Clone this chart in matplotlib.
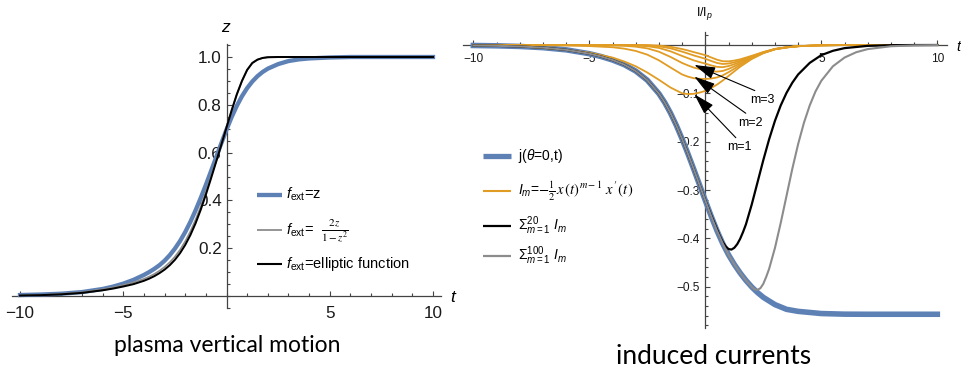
import matplotlib
matplotlib.use('Agg')
import matplotlib.pyplot as plt
from matplotlib.lines import Line2D
from matplotlib.ticker import MultipleLocator, FixedLocator

plt.rcParams['font.family'] = ['Liberation Sans', 'DejaVu Sans']
plt.rcParams['mathtext.fontset'] = 'custom'
plt.rcParams['mathtext.rm'] = 'Liberation Sans'
plt.rcParams['mathtext.it'] = 'Liberation Sans:italic'
plt.rcParams['mathtext.bf'] = 'Liberation Sans:bold'

# ---------------- data: left panel (plasma vertical motion) ----------------
t_left = [-10, -9, -8, -7, -6, -5.5, -5, -4.5, -4, -3.75, -3.5, -3.25, -3, -2.75, -2.5, -2.25, -2,
          -1.75, -1.5, -1.25, -1, -0.75, -0.5, -0.25, 0, 0.25, 0.5, 0.75, 1, 1.25, 1.5, 1.75, 2,
          2.5, 3, 3.5, 4, 5, 6, 7, 8, 9, 10]
z_fz = [0.004, 0.0062, 0.0096, 0.0164, 0.0294, 0.0392, 0.0517, 0.0677, 0.088, 0.0999, 0.1133, 0.1287,
        0.1476, 0.1707, 0.198, 0.23, 0.2673, 0.3101, 0.3579, 0.4098, 0.4649, 0.5223, 0.5808, 0.6392,
        0.696, 0.7488, 0.7957, 0.8361, 0.8699, 0.8975, 0.9198, 0.9374, 0.9512, 0.9702, 0.983, 0.99,
        0.994, 0.998, 1.0, 1.0, 1.0, 1.0, 1.0]
z_frac = [0.0025, 0.0045, 0.009, 0.0155, 0.028, 0.036, 0.0458, 0.0568, 0.0716, 0.081, 0.0919, 0.1055,
          0.1214, 0.1407, 0.1643, 0.1933, 0.2286, 0.2699, 0.3189, 0.3737, 0.4341, 0.499, 0.5661, 0.6351,
          0.705, 0.7769, 0.8438, 0.9001, 0.946, 0.975, 0.989, 0.996, 0.999, 1.0, 1.0, 1.0, 1.0, 1.0,
          1.0, 1.0, 1.0, 1.0, 1.0]
z_ellip = [0.002, 0.0035, 0.007, 0.013, 0.024, 0.031, 0.0398, 0.0498, 0.0636, 0.0725, 0.0829, 0.0955,
           0.1104, 0.1287, 0.1513, 0.1793, 0.2136, 0.2549, 0.3039, 0.3607, 0.4241, 0.492, 0.5621, 0.6331,
           0.705, 0.7769, 0.8438, 0.9001, 0.946, 0.975, 0.989, 0.996, 0.999, 1.0, 1.0, 1.0, 1.0, 1.0,
           1.0, 1.0, 1.0, 1.0, 1.0]
left_xticks = [-10, -5, 5, 10]
left_xticklabels = ['\u221210', '\u22125', '5', '10']
left_yticks = [0.2, 0.4, 0.6, 0.8, 1.0]
left_yticklabels = ['0.2', '0.4', '0.6', '0.8', '1.0']

# ---------------- data: right panel (induced currents) ----------------
t_right = [-10, -9, -8, -7, -6, -5, -4.5, -4, -3.5, -3, -2.5, -2, -1.75, -1.5, -1.25, -1, -0.75, -0.5,
           -0.25, 0, 0.25, 0.5, 0.75, 1, 1.25, 1.5, 1.75, 2, 2.25, 2.5, 3, 3.5, 4, 5, 6, 7, 8, 9, 10]
j_theta0 = [-0.001, -0.0017, -0.003, -0.0055, -0.010, -0.018, -0.0238, -0.0311, -0.0406, -0.0539,
            -0.0729, -0.1007, -0.119, -0.1409, -0.1663, -0.1946, -0.225, -0.2568, -0.2893, -0.3219,
            -0.3538, -0.3838, -0.4107, -0.434, -0.454, -0.4715, -0.487, -0.5005, -0.5121, -0.522,
            -0.537, -0.5468, -0.551, -0.5555, -0.5568, -0.557, -0.557, -0.557, -0.557]

t_orange = [-10, -8, -6, -5, -4, -3.5, -3, -2.5, -2, -1.5, -1, -0.75, -0.5, -0.25, 0, 0.25, 0.5, 0.75,
            1, 1.25, 1.5, 2, 2.5, 3, 3.5, 4, 5, 6, 8, 10]
I_1 = [-0.0006, -0.0026, -0.010, -0.016, -0.026, -0.034, -0.044, -0.057, -0.072, -0.088, -0.100, -0.1015,
       -0.101, -0.0985, -0.095, -0.089, -0.082, -0.0735, -0.064, -0.0545, -0.045, -0.029, -0.017, -0.009,
       -0.005, -0.0025, -0.0006, -0.0001, 0, 0]
I_2 = [0, -0.00016, -0.001, -0.00224, -0.00468, -0.0075, -0.0123, -0.020, -0.0317, -0.0466, -0.061,
       -0.0655, -0.0687, -0.0699, -0.0703, -0.0694, -0.0672, -0.0628, -0.0563, -0.0491, -0.0414, -0.0276,
       -0.0165, -0.0088, -0.00495, -0.0025, -0.0006, -0.0001, 0, 0]
I_3 = [0, -0.00001, -0.0001, -0.00031, -0.00084, -0.00165, -0.00345, -0.0070, -0.0139, -0.0247, -0.0372,
       -0.0422, -0.0467, -0.0497, -0.0520, -0.0541, -0.0551, -0.0537, -0.0496, -0.0441, -0.0381, -0.0262,
       -0.0160, -0.0086, -0.0049, -0.0025, -0.0006, -0.0001, 0, 0]
I_4 = [0, 0, -0.00001, -0.00004, -0.00015, -0.00036, -0.00097, -0.00244, -0.0061, -0.0131, -0.0227,
       -0.0272, -0.0318, -0.0353, -0.0385, -0.0422, -0.0452, -0.0459, -0.0436, -0.0397, -0.0350, -0.0249,
       -0.0155, -0.0085, -0.00485, -0.0024, -0.0006, -0.0001, 0, 0]
I_5 = [0, 0, 0, 0, -0.00003, -0.00008, -0.00027, -0.00085, -0.0027, -0.0069, -0.0138, -0.0176, -0.0216,
       -0.0250, -0.0285, -0.0330, -0.0371, -0.0393, -0.0384, -0.0358, -0.0322, -0.0236, -0.0151, -0.0083,
       -0.0048, -0.0024, -0.0006, -0.0001, 0, 0]
I_6 = [0, 0, 0, 0, 0, -0.00002, -0.00008, -0.0003, -0.0012, -0.0037, -0.0084, -0.0113, -0.0147, -0.0178,
       -0.0211, -0.0257, -0.0304, -0.0336, -0.0338, -0.0322, -0.0297, -0.0224, -0.0146, -0.0081, -0.00475,
       -0.0024, -0.0006, -0.0001, 0, 0]
I_m_series = [I_1, I_2, I_3, I_4, I_5, I_6]

t_sum20 = [-10, -9, -8, -7, -6, -5, -4.5, -4, -3.5, -3, -2.5, -2, -1.75, -1.5, -1.25, -1, -0.75, -0.5,
           -0.25, 0, 0.25, 0.5, 0.625, 0.75, 0.875, 1, 1.125, 1.25, 1.375, 1.5, 1.625, 1.75, 2, 2.25,
           2.5, 2.75, 3, 3.25, 3.5, 3.75, 4, 4.5, 5, 5.5, 6, 7, 8, 9, 10]
sum20 = [-0.001, -0.0017, -0.003, -0.0055, -0.010, -0.018, -0.0238, -0.0311, -0.0406, -0.0539, -0.0729,
         -0.1007, -0.119, -0.1409, -0.1663, -0.1946, -0.225, -0.2568, -0.2893, -0.3215, -0.352, -0.381,
         -0.3955, -0.4075, -0.4165, -0.422, -0.4232, -0.4195, -0.412, -0.401, -0.387, -0.371, -0.330,
         -0.284, -0.238, -0.195, -0.157, -0.125, -0.099, -0.078, -0.061, -0.037, -0.021, -0.012, -0.0065,
         -0.0018, -0.0004, -0.0001, 0]
t_sum100 = [-10, -9, -8, -7, -6, -5, -4.5, -4, -3.5, -3, -2.5, -2, -1.75, -1.5, -1.25, -1, -0.75, -0.5,
            -0.25, 0, 0.25, 0.5, 0.75, 1, 1.25, 1.5, 1.75, 2, 2.125, 2.25, 2.375, 2.5, 2.625, 2.75, 3,
            3.25, 3.5, 3.75, 4, 4.25, 4.5, 4.75, 5, 5.5, 6, 6.5, 7, 8, 9, 10]
sum100 = [-0.001, -0.0017, -0.003, -0.0055, -0.010, -0.018, -0.0238, -0.0311, -0.0406, -0.0539, -0.0729,
          -0.1007, -0.119, -0.1409, -0.1663, -0.1946, -0.225, -0.2568, -0.2893, -0.3219, -0.3538, -0.3838,
          -0.4107, -0.434, -0.454, -0.4715, -0.487, -0.5003, -0.5055, -0.5065, -0.503, -0.494, -0.4795,
          -0.463, -0.42, -0.368, -0.312, -0.256, -0.205, -0.161, -0.125, -0.096, -0.074, -0.044, -0.026,
          -0.015, -0.0085, -0.0026, -0.0008, -0.0002]
right_xticks = [-10, -5, 5, 10]
right_xticklabels = ['\u221210', '\u22125', '5', '10']
right_yticks = [-0.5, -0.4, -0.3, -0.2, -0.1]
right_yticklabels = ['\u22120.5', '\u22120.4', '\u22120.3', '\u22120.2', '\u22120.1']

callout_labels = ['m=1', 'm=2', 'm=3']
callout_tips = [(-0.474, -0.102), (-0.474, -0.0655), (-0.474, -0.0413)]
callout_text = [(1.47, -0.212), (1.96, -0.161), (2.47, -0.1136)]

# ---------------- styling ----------------
BLUE = '#5E81B5'
ORANGE = '#E19C24'
GRAY = '#8c8c8c'
BLACK = '#000000'
AXC = '#444444'
W, H = 961, 369

fig = plt.figure(figsize=(9.61, 3.69), dpi=100)


def rect(x0, x1, y0, y1):
    return [x0 / W, 1 - y1 / H, (x1 - x0) / W, (y1 - y0) / H]


def ftext(x, y, s, **kw):
    return fig.text(x / W, 1 - y / H, s, **kw)


def fline(x0, x1, y, **kw):
    fig.add_artist(Line2D([x0 / W, x1 / W], [1 - y / H, 1 - y / H], transform=fig.transFigure,
                          solid_capstyle='butt', **kw))


def style_axes(ax):
    ax.patch.set_alpha(0)
    ax.spines['top'].set_visible(False)
    ax.spines['right'].set_visible(False)
    ax.spines['left'].set_position(('data', 0))
    ax.spines['bottom'].set_position(('data', 0))
    for s in ('left', 'bottom'):
        ax.spines[s].set_color(AXC)
        ax.spines[s].set_linewidth(0.9)


# ---------------- left axes ----------------
axL = fig.add_axes(rect(11.74, 441.26, 43.86, 307.95))
axL.set_xlim(-10.4, 10.4)
axL.set_ylim(-0.05, 1.055)
style_axes(axL)
axL.plot(t_left, z_fz, color=BLUE, lw=3.1, zorder=3)
axL.plot(t_left, z_frac, color=GRAY, lw=1.2, zorder=3)
axL.plot(t_left, z_ellip, color=BLACK, lw=1.45, zorder=3)
axL.xaxis.set_major_locator(FixedLocator(left_xticks))
axL.set_xticklabels(left_xticklabels)
axL.xaxis.set_minor_locator(MultipleLocator(1))
axL.yaxis.set_major_locator(FixedLocator(left_yticks))
axL.set_yticklabels(left_yticklabels)
axL.yaxis.set_minor_locator(MultipleLocator(0.05))
axL.tick_params(which='both', direction='in', color=AXC, width=0.8, labelcolor='#1a1a1a')
axL.tick_params(which='major', length=3.4, labelsize=12.3)
axL.tick_params(which='minor', length=2.0)
axL.tick_params(axis='x', which='major', pad=7)
axL.tick_params(axis='y', which='major', pad=3.5)

ftext(225, 27, 'z', ha='center', va='center', fontsize=12.5, style='italic')
ftext(453, 297, 't', ha='center', va='center', fontsize=12.5, style='italic')

# left legend
fline(257, 282, 194.5, color=BLUE, lw=3.1)
fline(257, 282, 230, color=GRAY, lw=1.3)
fline(257, 282, 263.5, color=BLACK, lw=1.5)
ftext(286, 199, r'$f_{\mathrm{ext}}$=z', fontsize=10.5, va='baseline')
ftext(286, 234.5, r'$f_{\mathrm{ext}}$=', fontsize=10.5, va='baseline')
ftext(321, 230.5, r'$\frac{2\,z}{1-z^2}$', fontsize=11.5, va='center', math_fontfamily='stix')
ftext(286, 268, r'$f_{\mathrm{ext}}$=elliptic function', fontsize=10.5, va='baseline')

ftext(227, 352.5, 'plasma vertical motion', ha='center', va='baseline', fontsize=16.5, family='Lato')

# ---------------- right axes ----------------
axR = fig.add_axes(rect(462.9, 946.6, 31.7, 327.8))
axR.set_xlim(-10.45, 10.4)
axR.set_ylim(-0.585, 0.0275)
style_axes(axR)
axR.plot(t_right, j_theta0, color=BLUE, lw=4.0, zorder=3)
for series in I_m_series:
    axR.plot(t_orange, series, color=ORANGE, lw=1.3, zorder=3.2)
axR.plot(t_sum20, sum20, color=BLACK, lw=1.6, zorder=3.4)
axR.plot(t_sum100, sum100, color=GRAY, lw=1.5, zorder=3.5)
axR.xaxis.set_major_locator(FixedLocator(right_xticks))
axR.set_xticklabels(right_xticklabels)
axR.xaxis.set_minor_locator(MultipleLocator(1))
axR.yaxis.set_major_locator(FixedLocator(right_yticks))
axR.set_yticklabels(right_yticklabels)
axR.yaxis.set_minor_locator(MultipleLocator(0.02))
axR.tick_params(which='both', direction='in', color=AXC, width=0.8, labelcolor='#1a1a1a')
axR.tick_params(which='major', length=3.6, labelsize=8.6)
axR.tick_params(which='minor', length=2.2)
axR.tick_params(axis='x', which='major', pad=6)
axR.tick_params(axis='y', which='major', pad=4)

for lab, tip, txt in zip(callout_labels, callout_tips, callout_text):
    axR.annotate(lab, xy=tip, xytext=txt, textcoords='data', ha='center', va='center', fontsize=9,
                 zorder=6,
                 arrowprops=dict(arrowstyle='-|>,head_length=1.3,head_width=0.38', color='black',
                                 lw=0.8, shrinkA=1, shrinkB=0, relpos=(0.5, 1.0), mutation_scale=10))

ftext(705, 14, r'I/I$_p$', ha='center', va='center', fontsize=9)
ftext(956, 47, 't', ha='left', va='center', fontsize=10.5, style='italic')

# right legend
fline(483, 511, 156, color=BLUE, lw=3.8)
fline(483, 511, 191, color=ORANGE, lw=1.5)
fline(483, 511, 226, color=BLACK, lw=1.6)
fline(483, 511, 256, color=GRAY, lw=1.6)
ftext(518, 160, r'j($\theta$=0,t)', fontsize=10, va='baseline')
ftext(518, 195, r'$I_m$=', fontsize=10, va='baseline')
ftext(538, 191, r'$-\frac{1}{2}\,x\,(t)^{m-1}\;x\,^{\prime}(t\,)$', fontsize=10.5, va='center',
      math_fontfamily='stix')
ftext(518, 230, r'$\Sigma_{m=1}^{20}\ I_m$', fontsize=10, va='baseline')
ftext(518, 260, r'$\Sigma_{m=1}^{100}\ I_m$', fontsize=10, va='baseline')

ftext(714, 364.5, 'induced currents', ha='center', va='baseline', fontsize=19, family='Lato')

fig.savefig('out.png', dpi=100)
